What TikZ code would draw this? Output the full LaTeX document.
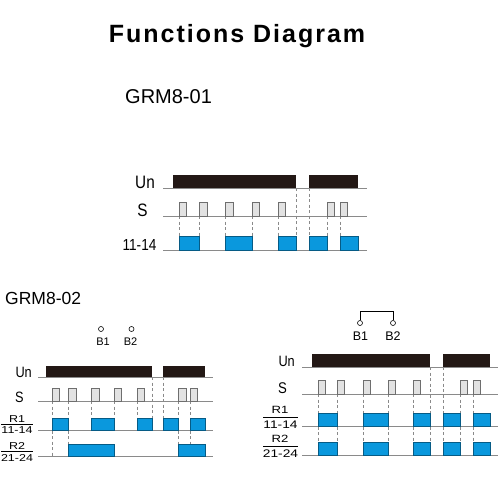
\documentclass[tikz,border=0pt]{standalone}
\usepackage{fontspec}
\setmainfont{Liberation Sans}
\newfontfamily\titlefont[LetterSpace=8]{Liberation Sans}
\newfontfamily\narrowfont[FakeStretch=0.85]{Liberation Sans}
\newfontfamily\widefont[FakeStretch=1.25]{Liberation Sans}
\definecolor{unblack}{HTML}{231815}
\definecolor{relayblue}{HTML}{0A98DD}
\definecolor{pulsegray}{HTML}{E2E2E2}
\definecolor{linegray}{HTML}{8A8A8A}

\tikzset{
	unbar/.style={fill=unblack},
	pulse/.style={fill=pulsegray, draw=linegray!80!black, line width=0.6pt},
	relay/.style={fill=relayblue, draw=relayblue!60!black, line width=0.5pt},
	axis/.style={draw=linegray, line width=0.8pt},
	guide/.style={draw=linegray, line width=0.6pt, dash pattern=on 3pt off 2.5pt},
	lbl/.style={inner sep=0pt, anchor=base},
	term/.style={circle, draw, line width=0.6pt, minimum size=5pt, inner sep=0pt},
}

% S pulses: baseline, height, left edges
\newcommand{\pulses}[3]{\foreach \x in {#3} {\draw[pulse] (\x,#1) rectangle ++(7.5,-#2);}}
% relay contact on: baseline, top, on/off pairs
\newcommand{\blocks}[3]{\foreach \a/\b in {#3} {\draw[relay] (\a,#1) rectangle (\b,#2);}}
% dashed guides: from, to, x positions
\newcommand{\guides}[3]{\foreach \x in {#3} {\draw[guide] (\x,#1) -- (\x,#2);}}

\begin{document}
\begin{tikzpicture}[x=1pt, y=-1pt]
	\useasboundingbox (0,0) rectangle (500,484);

	% headings
	\node[lbl, font={\titlefont\bfseries\fontsize{25}{25}\selectfont}] (title) at (237,43) {Functions Diagram};
	\node[lbl, anchor=base west, font=\fontsize{20}{20}\selectfont] (grm1) at (125,103) {GRM8-01};
	\node[lbl, anchor=base west, font=\fontsize{17.5}{17.5}\selectfont] (grm2) at (5,304) {GRM8-02};

	% GRM8-01
	\node[lbl, anchor=base east, font={\narrowfont\fontsize{18}{18}\selectfont}] (un1) at (155,188) {Un};
	\node[lbl, font={\narrowfont\fontsize{18}{18}\selectfont}] (s1) at (142.5,216) {S};
	\node[lbl, font={\narrowfont\fontsize{16}{16}\selectfont}] (c1) at (139.5,250) {11-14};

	\guides{216}{236}{179,199.5,225.5,252,278,327,340}
	\guides{188}{236}{296,309}
	\draw[axis] (163,188) -- (367,188);
	\fill[unbar] (173,175) rectangle (296,188);
	\fill[unbar] (309,175) rectangle (358,188);
	\draw[axis] (163,216) -- (367,216);
	\pulses{216}{14}{179,199.5,225.5,252,278,327,340}
	\draw[axis] (163,250) -- (367,250);
	\blocks{250}{236}{179/199.5, 225.5/252, 278/296, 309/327, 340/358}

	% GRM8-02, B1 and B2 open
	\node[term] (b1l) at (101,329) {};
	\node[term] (b2l) at (131.5,329) {};
	\node[lbl, font=\fontsize{11}{11}\selectfont] (tb1l) at (103,345) {B1};
	\node[lbl, font=\fontsize{11}{11}\selectfont] (tb2l) at (130.5,345) {B2};

	\node[lbl, anchor=base east, font={\narrowfont\fontsize{15}{15}\selectfont}] (un2) at (32,377) {Un};
	\node[lbl, font={\narrowfont\fontsize{15}{15}\selectfont}] (s2) at (19.5,402) {S};
	\node[lbl, font={\widefont\fontsize{10}{10}\selectfont}] (r1l) at (17,422) {R1};
	\node[lbl, font={\widefont\fontsize{10}{10}\selectfont}] (c1l) at (17,433) {11-14};
	\node[lbl, font={\widefont\fontsize{10}{10}\selectfont}] (r2l) at (17,449) {R2};
	\node[lbl, font={\widefont\fontsize{10}{10}\selectfont}] (c2l) at (17,461) {21-24};
	\draw[line width=0.6pt] (1,424) -- (33,424);
	\draw[line width=0.6pt] (1,451) -- (33,451);

	\guides{401}{418}{52,68.5,91.5,114,137,178.5,190}
	\guides{377}{418}{152,163}
	\guides{430.5}{456.5}{52}
	\guides{430.5}{444}{68.5,178.5,190}
	\draw[axis] (38,377) -- (213,377);
	\fill[unbar] (46,366) rectangle (152,377);
	\fill[unbar] (163,366) rectangle (205,377);
	\draw[axis] (38,401) -- (213,401);
	\pulses{401}{12.5}{52,68.5,91.5,114,137,178.5,190}
	\draw[axis] (38,430.5) -- (213,430.5);
	\blocks{430.5}{418}{52/68.5, 91.5/114, 137/152, 163/178.5, 190/205}
	\draw[axis] (38,456.5) -- (213,456.5);
	\blocks{456.5}{444}{68.5/114, 178.5/205}

	% GRM8-02, B1 and B2 bridged
	\node[term] (b1r) at (360,323) {};
	\node[term] (b2r) at (393,323) {};
	\draw[line width=0.6pt] (b1r.north) -- ++(0,-9) -| (b2r.north);
	\node[lbl, font=\fontsize{12.5}{12.5}\selectfont] (tb1r) at (360.5,340.5) {B1};
	\node[lbl, font=\fontsize{12.5}{12.5}\selectfont] (tb2r) at (393,340.5) {B2};

	\node[lbl, anchor=base east, font={\narrowfont\fontsize{15}{15}\selectfont}] (un3) at (295,366) {Un};
	\node[lbl, font={\narrowfont\fontsize{15.5}{15.5}\selectfont}] (s3) at (282.5,393) {S};
	\node[lbl, font={\widefont\fontsize{10.5}{10.5}\selectfont}] (r1r) at (280,413) {R1};
	\node[lbl, font={\widefont\fontsize{11}{11}\selectfont}] (c1r) at (280.5,428) {11-14};
	\node[lbl, font={\widefont\fontsize{10.5}{10.5}\selectfont}] (r2r) at (280,442) {R2};
	\node[lbl, font={\widefont\fontsize{11}{11}\selectfont}] (c2r) at (280.5,457) {21-24};
	\draw[line width=0.6pt] (263,417) -- (298,417);
	\draw[line width=0.6pt] (263,446) -- (298,446);

	\guides{394}{413}{318,337,363,388,413,460,473}
	\guides{367}{413}{430,443}
	\guides{426.5}{442}{318,337,363,388,413,430,443,460,473}
	\draw[axis] (302,367) -- (498,367);
	\fill[unbar] (312,354) rectangle (430,367);
	\fill[unbar] (443,354) rectangle (490,367);
	\draw[axis] (302,394) -- (498,394);
	\pulses{394}{14}{318,337,363,388,413,460,473}
	\draw[axis] (302,426.5) -- (498,426.5);
	\blocks{426.5}{413}{318/337, 363/388, 413/430, 443/460, 473/490}
	\draw[axis] (302,455.5) -- (498,455.5);
	\blocks{455.5}{442}{318/337, 363/388, 413/430, 443/460, 473/490}
\end{tikzpicture}
\end{document}
